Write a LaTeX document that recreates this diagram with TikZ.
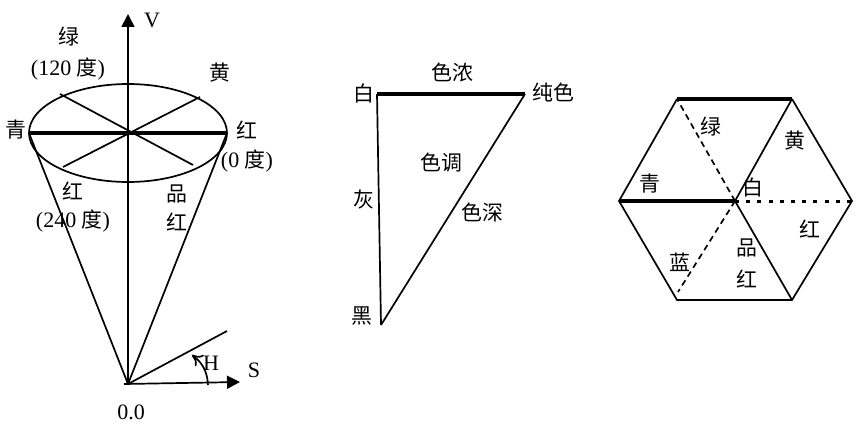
\documentclass[tikz,border=0pt]{standalone}
\usepackage{fontspec}
\setmainfont{Liberation Serif}
\newfontfamily\cjk[Scale=0.95]{Noto Sans CJK SC}
\usepackage{tikz}
\usetikzlibrary{arrows.meta}

\begin{document}
\begin{tikzpicture}[x=0.5pt,y=-0.5pt,line width=0.85pt]
        \tikzstyle{every node}=[inner sep=0pt,font=\fontsize{11}{13}\selectfont]
        \tikzstyle{thick line}=[line width=1.7pt]
        \tikzstyle{dash line}=[dash pattern=on 3pt off 2.2pt]
        \tikzstyle{dot line}=[line width=1.5pt,dash pattern=on 2pt off 3.6pt]
        \tikzstyle{axis}=[-{Triangle[length=6.5pt,width=6.5pt]}]

        \useasboundingbox (0,0) rectangle (860,427);

        % cone
        \coordinate (O) at (128,384);
        \coordinate (Vtop) at (128,14);
        \coordinate (Stop) at (240,382);
        \coordinate (Oleft) at (124,384);
        \coordinate (Ray) at (227,331);
        \coordinate (Ctr) at (128,133);
        \coordinate (CL) at (29,133);
        \coordinate (CR) at (227,133);
        \coordinate (A1) at (60,94);
        \coordinate (A2) at (193,165);
        \coordinate (B1) at (200,97);
        \coordinate (B2) at (63,167);
        \coordinate (H1) at (208,385);
        \coordinate (H2) at (192,355);

        \draw (Ctr) ellipse [x radius=99,y radius=49];
        \draw[thick line] (CL) -- (CR);
        \draw (A1) -- (A2);
        \draw (B1) -- (B2);
        \draw (CL) -- (O);
        \draw (CR) -- (O);
        \draw[dash line] (Ctr) -- (O);
        \draw (O) -- (Ray);
        \draw[axis] (O) -- (Vtop);
        \draw[axis] (Oleft) -- (Stop);
        \draw[-{To[length=5pt,width=7pt]}] (H1) to[bend right=25] (H2);

        \node (lv) at (152,20) {V};
        \node (ls) at (254,370) {S};
        \node (lh) at (211,363) {H};
        \node (lo) at (131,412) {0.0};
        \node (lgreen) at (69,37) {\cjk 绿};
        \node (lgreendeg) at (68,69) {(120 {\cjk 度})};
        \node (lyellow) at (220,73) {\cjk 黄};
        \node (lcyan) at (16,130) {\cjk 青};
        \node (lred) at (247,130) {\cjk 红};
        \node (lreddeg) at (247,161) {(0 {\cjk 度})};
        \node (lblue) at (73,191) {\cjk 红};
        \node (lbluedeg) at (73,221) {(240 {\cjk 度})};
        \node (lmag) at (177,194) {\cjk 品};
        \node (lmagb) at (177,222) {\cjk 红};

        % triangle
        \coordinate (W) at (377,94);
        \coordinate (P) at (525,94);
        \coordinate (K) at (381,325);

        \draw[thick line] (W) -- (P);
        \draw (W) -- (K);
        \draw (P) -- (K);

        \node (tshade) at (452,72) {\cjk 色浓};
        \node (twhite) at (364,94) {\cjk 白};
        \node (tpure) at (553,92) {\cjk 纯色};
        \node (thue) at (441,163) {\cjk 色调};
        \node (tgray) at (364,200) {\cjk 灰};
        \node (tdeep) at (482,212) {\cjk 色深};
        \node (tblack) at (362,316) {\cjk 黑};

        % hexagon
        \coordinate (X) at (735,201);
        \coordinate (X1) at (852,201);
        \coordinate (X2) at (792,99);
        \coordinate (X3) at (677,99);
        \coordinate (X4) at (619,201);
        \coordinate (X5) at (677,300);
        \coordinate (X6) at (792,300);
        \coordinate (X5a) at (678,292);

        \draw (X2) -- (X1) -- (X6) -- (X5) -- (X4) -- (X3);
        \draw[thick line] (X3) -- (X2);
        \draw[thick line] (X4) -- (X);
        \draw (X) -- (X2);
        \draw (X) -- (X6);
        \draw[dash line] (X) -- (X3);
        \draw[dash line] (X) -- (X5a);
        \draw[dot line] (X) -- (X1);

        \node (hgreen) at (711,127) {\cjk 绿};
        \node (hyellow) at (795,141) {\cjk 黄};
        \node (hcyan) at (650,184) {\cjk 青};
        \node (hwhite) at (753,188) {\cjk 白};
        \node (hred) at (810,229) {\cjk 红};
        \node (hmag) at (747,248) {\cjk 品};
        \node (hmagb) at (747,279) {\cjk 红};
        \node (hblue) at (680,262) {\cjk 蓝};
    \end{tikzpicture}
\end{document}
